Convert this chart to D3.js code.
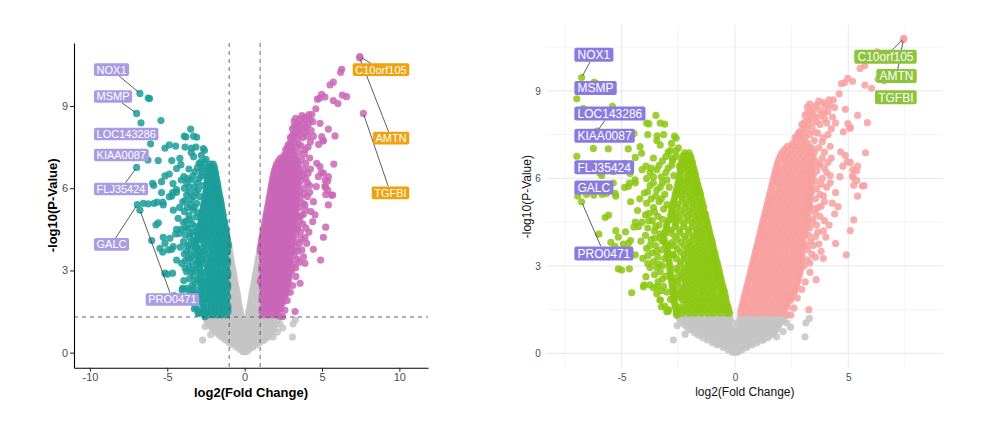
<!DOCTYPE html>
<html>
<head>
<meta charset="utf-8">
<script src="https://cdn.jsdelivr.net/npm/d3@7"></script>
<style>
  body { margin: 0; background: #fff; }
  svg { display: block; font-family: "Liberation Sans", Arial, sans-serif; }
</style>
</head>
<body>
<svg width="1000" height="425"></svg>
<script>
// ---- data: log2 fold change (x) and -log10 p (y) ----
const pCut = 1.30103;   // -log10(0.05)
const fcCut = 1;

// non significant cloud at the bottom, rows of [p, [fc...]]
const nsRows = [
  [0.04, [-0.12, 0.0, 0.12]],
  [0.12, [-0.3, -0.1, 0.1, 0.3]],
  [0.2, [-0.52, -0.26, 0.0, 0.26, 0.52]],
  [0.29, [-0.78, -0.52, -0.26, 0.0, 0.26, 0.52, 0.76]],
  [0.37, [-1.0, -0.75, -0.5, -0.25, 0.0, 0.25, 0.5, 0.75, 0.98]],
  [0.46, [-1.22, -0.95, -0.68, -0.4, -0.13, 0.12, 0.38, 0.63, 0.9, 1.15, 1.25]],
  [0.54, [-1.42, -1.15, -0.88, -0.6, -0.32, -0.05, 0.22, 0.5, 0.78, 1.05, 1.3, 1.45]],
  [0.63, [-1.62, -1.35, -1.08, -0.8, -0.55, -0.28, 0.0, 0.27, 0.55, 0.82, 1.1, 1.38, 1.6]],
  [0.71, [-1.78, -1.52, -1.25, -0.98, -0.7, -0.42, -0.15, 0.12, 0.4, 0.68, 0.95, 1.22, 1.5, 1.7]],
  [0.8, [-1.95, -1.68, -1.4, -1.12, -0.85, -0.57, -0.3, -0.02, 0.25, 0.52, 0.8, 1.07, 1.35, 1.62, 1.8]],
  [0.88, [-2.08, -1.82, -1.55, -1.28, -1.0, -0.72, -0.45, -0.18, 0.1, 0.38, 0.65, 0.92, 1.2, 1.48, 1.75, 1.9]],
  [0.97, [-2.2, -1.92, -1.65, -1.38, -1.1, -0.82, -0.55, -0.27, 0.25, 0.52, 0.8, 1.08, 1.35, 1.62, 1.9]],
  [1.05, [-2.3, -2.02, -1.75, -1.48, -1.2, -0.92, -0.64, -0.36, -0.12, 0.12, 0.36, 0.64, 0.92, 1.2, 1.48, 1.75, 2.0]],
  [1.13, [-2.38, -2.15, -1.88, -1.6, -1.32, -1.05, -0.78, -0.5, -0.24, 0.24, 0.5, 0.78, 1.05, 1.32, 1.6, 1.88, 2.08]],
  [1.2, [-2.45, -2.18, -1.9, -1.62, -1.35, -1.08, -0.8, -0.52, -0.22, 0.22, 0.52, 0.8, 1.08, 1.35, 1.62, 1.9, 2.12]],
  [1.28, [-2.52, -2.3, -2.02, -1.75, -1.48, -1.2, -0.92, -0.65, -0.38, 0.38, 0.65, 0.92, 1.2, 1.48, 1.75, 2.02, 2.2]]
];
const nsScatter = [[-2.72, 0.46], [-2.2, 0.66], [1.84, 0.57], [3.09, 0.57], [3.13, 1.05], [3.28, 1.2],
  [2.28, 1.05], [2.45, 0.9], [2.12, 0.75], [-2.55, 0.95]];

// dense body of the down regulated side
const downRows = [
  [1.38, [-2.58, -2.33, -2.04, -1.77, -1.5, -1.21, -0.95, -0.66, -0.4, -0.24]],
  [1.49, [-2.6, -2.45, -2.18, -1.9, -1.63, -1.35, -1.08, -0.8, -0.53, -0.28]],
  [1.6, [-2.63, -2.45, -2.18, -1.9, -1.63, -1.36, -1.08, -0.8, -0.53, -0.31]],
  [1.71, [-2.67, -2.17, -1.91, -1.63, -1.36, -1.08, -0.8, -0.54, -0.36]],
  [1.82, [-2.69, -2.31, -2.05, -1.77, -1.49, -1.22, -0.94, -0.67, -0.4]],
  [1.93, [-2.7, -2.55, -2.32, -2.04, -1.76, -1.49, -1.22, -0.95, -0.68, -0.42]],
  [2.04, [-2.72, -2.46, -2.19, -1.9, -1.63, -1.35, -1.09, -0.8, -0.55, -0.45]],
  [2.15, [-2.74, -2.6, -2.32, -2.05, -1.77, -1.49, -1.22, -0.96, -0.62, -0.48]],
  [2.26, [-2.76, -2.33, -2.06, -1.78, -1.5, -1.23, -0.95, -0.7, -0.52]],
  [2.37, [-2.78, -2.55, -2.2, -1.92, -1.64, -1.37, -1.09, -0.82, -0.56]],
  [2.48, [-2.8, -2.52, -2.2, -1.92, -1.64, -1.36, -1.09, -0.82, -0.6]],
  [2.59, [-2.82, -2.62, -2.34, -2.06, -1.78, -1.5, -1.22, -0.95, -0.72, -0.63]],
  [2.7, [-2.84, -2.36, -2.07, -1.79, -1.51, -1.23, -0.95, -0.67]],
  [2.81, [-2.86, -2.5, -2.22, -1.93, -1.65, -1.37, -1.09, -0.81, -0.69]],
  [2.92, [-2.88, -2.6, -2.22, -1.93, -1.65, -1.37, -1.09, -0.84, -0.73]],
  [3.03, [-2.89, -2.42, -2.08, -1.79, -1.51, -1.23, -0.97, -0.76]],
  [3.14, [-2.9, -2.4, -2.08, -1.79, -1.51, -1.23, -0.97, -0.8]],
  [3.25, [-2.95, -2.58, -2.25, -1.94, -1.65, -1.37, -1.1, -0.84]],
  [3.36, [-3.0, -2.72, -2.24, -1.95, -1.66, -1.38, -1.1, -0.87]],
  [3.47, [-2.98, -2.4, -2.1, -1.81, -1.52, -1.24, -0.98, -0.9]],
  [3.58, [-2.96, -2.55, -2.1, -1.81, -1.53, -1.24, -0.95]],
  [3.69, [-3.05, -2.68, -2.25, -1.96, -1.67, -1.38, -1.1, -0.97]],
  [3.8, [-3.1, -2.8, -2.38, -2.0, -1.68, -1.4, -1.13, -1.0]],
  [3.91, [-3.12, -2.55, -2.15, -1.84, -1.55, -1.26, -1.03]],
  [4.02, [-3.15, -2.66, -2.23, -1.85, -1.56, -1.28, -1.08]],
  [4.13, [-3.1, -2.85, -2.43, -2.04, -1.7, -1.42, -1.12]],
  [4.24, [-3.05, -2.8, -2.45, -2.05, -1.71, -1.42, -1.15]],
  [4.35, [-3.02, -2.63, -2.26, -1.88, -1.57, -1.28, -1.18]],
  [4.46, [-3.0, -2.62, -2.25, -1.89, -1.6, -1.3, -1.22]],
  [4.57, [-2.92, -2.7, -2.42, -2.06, -1.74, -1.45, -1.25]],
  [4.68, [-2.85, -2.5, -2.12, -1.78, -1.5, -1.29]],
  [4.79, [-2.82, -2.6, -2.25, -1.93, -1.63, -1.35, -1.31]],
  [4.9, [-2.8, -2.38, -2.0, -1.68, -1.4]],
  [5.01, [-2.78, -2.55, -2.2, -1.86, -1.55, -1.38]],
  [5.12, [-2.75, -2.5, -2.15, -1.85, -1.57, -1.43]],
  [5.23, [-2.7, -2.32, -2.0, -1.71, -1.46]],
  [5.34, [-2.66, -2.34, -2.02, -1.74, -1.5]],
  [5.45, [-2.63, -2.5, -2.2, -1.9, -1.62, -1.52]],
  [5.56, [-2.6, -2.42, -2.16, -1.89, -1.62, -1.56]],
  [5.67, [-2.56, -2.3, -2.02, -1.76, -1.6]],
  [5.78, [-2.53, -2.3, -2.03, -1.78, -1.64]],
  [5.89, [-2.5, -2.38, -2.1, -1.84, -1.67]],
  [6.0, [-2.47, -2.2, -1.94, -1.72]],
  [6.11, [-2.44, -2.06, -1.82, -1.74]],
  [6.22, [-2.42, -2.15, -1.9, -1.78]],
  [6.33, [-2.4, -2.27, -2.0, -1.81]],
  [6.44, [-2.38, -2.1, -1.86]],
  [6.55, [-2.36, -2.2, -1.98, -1.88]],
  [6.66, [-2.33, -2.1, -1.93]],
  [6.77, [-2.3, -2.15, -1.96]],
  [6.88, [-2.22, -2.03]]
];

// dense body of the up regulated side
const upRows = [
  [1.38, [0.24, 0.45, 0.72, 0.98, 1.25, 1.52, 1.8, 2.05]],
  [1.49, [0.27, 0.58, 0.85, 1.12, 1.38, 1.66, 1.93, 2.15]],
  [1.6, [0.31, 0.58, 0.85, 1.12, 1.38, 1.66, 1.93, 2.2, 2.32]],
  [1.71, [0.34, 0.45, 0.72, 0.98, 1.25, 1.52, 1.79, 2.06, 2.3]],
  [1.82, [0.38, 0.72, 0.98, 1.25, 1.52, 1.79, 2.06, 2.33, 2.45]],
  [1.93, [0.41, 0.58, 0.85, 1.12, 1.38, 1.65, 1.92, 2.2, 2.4, 2.5]],
  [2.04, [0.45, 0.6, 0.86, 1.12, 1.38, 1.65, 1.92, 2.2, 2.46, 2.6]],
  [2.15, [0.48, 0.73, 0.99, 1.25, 1.52, 1.78, 2.05, 2.33, 2.55, 2.65]],
  [2.26, [0.52, 0.74, 1.0, 1.27, 1.53, 1.8, 2.07, 2.34, 2.6, 2.7]],
  [2.37, [0.55, 0.87, 1.14, 1.4, 1.67, 1.93, 2.2, 2.47, 2.72]],
  [2.48, [0.59, 0.88, 1.14, 1.4, 1.67, 1.94, 2.2, 2.47, 2.78]],
  [2.59, [0.62, 0.75, 1.01, 1.27, 1.53, 1.8, 2.07, 2.34, 2.6, 2.8]],
  [2.7, [0.66, 0.8, 1.06, 1.32, 1.58, 1.85, 2.12, 2.38, 2.65, 2.85]],
  [2.81, [0.69, 0.93, 1.19, 1.45, 1.71, 1.98, 2.25, 2.51, 2.76, 2.87]],
  [2.92, [0.73, 0.95, 1.2, 1.46, 1.72, 1.99, 2.26, 2.52, 2.78, 2.9]],
  [3.03, [0.76, 0.83, 1.08, 1.33, 1.59, 1.85, 2.12, 2.39, 2.65, 2.88]],
  [3.14, [0.8, 1.1, 1.35, 1.61, 1.87, 2.13, 2.4, 2.66, 2.92]],
  [3.25, [0.83, 0.98, 1.23, 1.48, 1.74, 2.0, 2.27, 2.53, 2.79, 2.93]],
  [3.36, [0.87, 1.0, 1.25, 1.5, 1.76, 2.02, 2.28, 2.55, 2.8, 2.96]],
  [3.47, [0.9, 1.13, 1.38, 1.63, 1.89, 2.15, 2.41, 2.67, 2.92]],
  [3.58, [0.94, 1.15, 1.4, 1.66, 1.92, 2.18, 2.44, 2.7, 2.98]],
  [3.69, [0.97, 1.03, 1.28, 1.53, 1.79, 2.05, 2.31, 2.57, 2.83, 3.0]],
  [3.8, [1.01, 1.3, 1.55, 1.81, 2.07, 2.33, 2.6, 2.86, 3.02]],
  [3.91, [1.04, 1.18, 1.43, 1.68, 1.94, 2.2, 2.46, 2.73, 2.95]],
  [4.02, [1.08, 1.2, 1.45, 1.7, 1.96, 2.22, 2.48, 2.75, 3.05]],
  [4.13, [1.11, 1.33, 1.58, 1.83, 2.09, 2.35, 2.61, 2.88, 3.08]],
  [4.24, [1.15, 1.36, 1.61, 1.87, 2.13, 2.39, 2.65, 2.91, 3.1]],
  [4.35, [1.18, 1.25, 1.49, 1.74, 2.0, 2.26, 2.52, 2.78, 3.0, 3.12]],
  [4.46, [1.22, 1.5, 1.76, 2.02, 2.28, 2.54, 2.8, 3.05, 3.15]],
  [4.57, [1.25, 1.38, 1.63, 1.89, 2.15, 2.41, 2.67, 2.93, 3.18]],
  [4.68, [1.29, 1.4, 1.66, 1.92, 2.18, 2.44, 2.7, 2.96, 3.2]],
  [4.79, [1.32, 1.53, 1.79, 2.05, 2.31, 2.57, 2.83, 3.08, 3.22]],
  [4.9, [1.36, 1.57, 1.83, 2.09, 2.35, 2.61, 2.87, 3.12, 3.25]],
  [5.01, [1.39, 1.45, 1.7, 1.96, 2.22, 2.48, 2.74, 3.0, 3.26]],
  [5.12, [1.43, 1.72, 1.98, 2.24, 2.5, 2.76, 3.02, 3.28]],
  [5.23, [1.46, 1.6, 1.85, 2.11, 2.37, 2.63, 2.89, 3.15, 3.29]],
  [5.34, [1.5, 1.62, 1.88, 2.14, 2.4, 2.66, 2.92, 3.18, 3.3]],
  [5.45, [1.53, 1.75, 2.01, 2.27, 2.53, 2.79, 3.05, 3.31]],
  [5.56, [1.57, 1.78, 2.04, 2.3, 2.56, 2.82, 3.08, 3.32]],
  [5.67, [1.6, 1.91, 2.17, 2.43, 2.69, 2.95, 3.2, 3.34]],
  [5.78, [1.64, 1.95, 2.2, 2.46, 2.72, 2.98, 3.24, 3.35]],
  [5.89, [1.67, 1.82, 2.07, 2.33, 2.59, 2.85, 3.11, 3.36]],
  [6.0, [1.71, 1.85, 2.1, 2.36, 2.62, 2.88, 3.14, 3.38]],
  [6.11, [1.74, 1.98, 2.23, 2.49, 2.75, 3.01, 3.27, 3.39]],
  [6.22, [1.78, 2.02, 2.28, 2.54, 2.8, 3.06, 3.32, 3.4]],
  [6.33, [1.81, 2.05, 2.31, 2.57, 2.83, 3.09, 3.35, 3.41]],
  [6.44, [1.85, 2.18, 2.44, 2.7, 2.96, 3.22, 3.42]],
  [6.55, [1.89, 2.24, 2.5, 2.76, 3.02, 3.28, 3.41]],
  [6.66, [1.94, 2.1, 2.36, 2.62, 2.88, 3.14, 3.4]],
  [6.77, [2.0, 2.23, 2.49, 2.75, 3.01, 3.27, 3.38]],
  [6.88, [2.07, 2.3, 2.56, 2.82, 3.08, 3.34]],
  [6.99, [2.18, 2.43, 2.69, 2.95, 3.21, 3.3]],
  [7.1, [2.32, 2.52, 2.78, 3.04, 3.22]]
];

// looser edge of the down side
const downFringe = [[-2.95, 1.45], [-3.1, 1.62], [-2.85, 1.85], [-3.3, 1.83], [-3.0, 2.1], [-3.15, 2.3],
  [-3.4, 2.45], [-3.05, 2.65], [-3.3, 2.8], [-3.55, 2.7], [-3.2, 3.0], [-3.75, 2.95], [-3.1, 3.25],
  [-3.4, 3.3], [-3.65, 3.45], [-3.25, 3.55], [-3.5, 3.7], [-3.9, 3.6], [-3.2, 3.85], [-3.7, 3.9],
  [-4.15, 3.85], [-3.3, 4.1], [-3.55, 4.2], [-3.85, 4.3], [-3.35, 4.4], [-3.65, 4.55], [-4.1, 4.5],
  [-3.4, 4.7], [-3.8, 4.8], [-3.15, 4.95], [-4.3, 4.9], [-3.0, 5.1], [-3.35, 5.2], [-3.7, 5.3],
  [-3.1, 5.45], [-4.0, 5.5], [-3.45, 5.6], [-2.9, 5.7], [-3.75, 5.75], [-3.2, 5.85], [-4.4, 5.85],
  [-2.7, 6.1], [-3.05, 6.2], [-3.45, 6.3], [-2.8, 6.45], [-3.2, 6.6], [-2.6, 6.75], [-3.6, 6.7],
  [-2.95, 6.9], [-2.5, 7.05], [-2.8, 7.2], [-3.3, 7.15], [-3.45, 7.3], [-3.15, 7.5], [-3.95, 4.05],
  [-4.25, 4.35], [-3.6, 5.0], [-3.9, 5.15], [-4.2, 5.3], [-3.6, 6.05], [-3.9, 6.0], [-4.1, 6.3],
  [-2.75, 3.4], [-2.7, 4.7], [-2.9, 3.7], [-3.25, 1.6], [-3.45, 2.05], [-3.25, 2.15], [-3.6, 2.25],
  [-3.2, 2.55], [-3.45, 2.95], [-3.6, 3.15], [-3.35, 3.05], [-3.85, 3.35], [-3.45, 3.5], [-3.75, 3.7],
  [-3.3, 3.95], [-3.55, 3.95], [-3.5, 4.35], [-3.8, 4.55], [-3.2, 4.6], [-3.55, 4.85], [-3.95, 4.75],
  [-3.25, 5.3], [-3.5, 5.4], [-3.85, 5.55], [-3.3, 5.7], [-3.6, 5.85], [-3.0, 5.95], [-3.25, 6.05],
  [-2.95, 6.35], [-3.35, 6.45], [-2.75, 6.6], [-3.05, 6.75], [-3.7, 6.35], [-2.6, 6.95], [-2.85, 6.95]];

// scattered genes far on the down side
const downTail = [[-6.23, 9.29], [-6.15, 9.27], [-6.7, 8.39], [-5.41, 8.47], [-3.49, 8.16], [-3.9, 7.9],
  [-3.8, 7.87], [-3.3, 7.9], [-3.1, 7.86], [-5.15, 7.46], [-4.46, 7.54], [-4.87, 7.58], [-3.85, 7.5],
  [-3.44, 7.46], [-2.67, 7.45], [-2.6, 7.38], [-5.59, 7.01], [-4.71, 7.01], [-4.19, 7.09], [-4.12, 6.86],
  [-5.15, 6.45], [-4.87, 6.52], [-5.37, 6.24], [-4.4, 6.72], [-3.93, 6.42], [-3.75, 6.2], [-2.77, 6.7],
  [-2.13, 6.79], [-2.46, 6.42], [-4.63, 6.17], [-4.41, 5.95], [-5.95, 6.18], [-5.88, 6.1], [-6.55, 5.45],
  [-6.23, 5.43], [-5.86, 5.45], [-5.66, 5.49], [-5.29, 5.49], [-4.71, 5.72], [-5.26, 5.39], [-4.61, 5.2],
  [-4.87, 5.69], [-5.37, 5.84], [-4.66, 5.84], [-5.58, 4.74], [-5.73, 4.66], [-6.01, 4.09], [-5.26, 4.21],
  [-4.83, 4.17], [-5.15, 3.99], [-4.61, 3.87], [-4.93, 3.75], [-4.4, 4.5], [-4.46, 4.33], [-5.48, 3.81],
  [-5.3, 3.67], [-4.71, 3.77], [-5.15, 2.9], [-4.66, 2.9], [-5.0, 2.86], [-3.93, 2.63], [-4.01, 2.35],
  [-3.75, 2.35], [-4.04, 2.29], [-3.43, 2.29], [-4.56, 2.08], [-3.31, 1.83], [-2.93, 1.5], [-4.4, 3.38],
  [-4.07, 3.26], [-3.85, 3.08], [-2.57, 1.31], [-3.01, 1.43]];

// looser edge of the up side
const upFringe = [[2.6, 1.55], [2.75, 1.9], [2.95, 2.2], [3.1, 2.45], [3.05, 3.0], [3.2, 3.2], [3.4, 3.4],
  [3.8, 3.5], [3.9, 3.26], [3.15, 3.7], [3.35, 3.85], [4.01, 3.99], [3.55, 4.0], [3.3, 4.3], [3.6, 4.4],
  [3.45, 4.6], [3.75, 4.7], [3.5, 4.95], [3.8, 5.05], [3.55, 5.3], [3.9, 5.4], [3.6, 5.65], [4.05, 5.7],
  [3.55, 5.9], [3.85, 6.0], [4.2, 6.1], [3.6, 6.25], [3.95, 6.35], [3.55, 6.6], [3.85, 6.7], [4.25, 6.7],
  [3.5, 6.9], [3.2, 7.2], [3.5, 7.3], [3.85, 7.25], [2.9, 7.4], [3.3, 7.5], [3.65, 7.55], [4.1, 7.5],
  [3.0, 7.7], [3.4, 7.8], [3.75, 7.85], [3.1, 7.95], [3.55, 8.1], [3.95, 8.05], [3.09, 8.17], [3.35, 8.3],
  [3.75, 8.35], [4.1, 8.3], [3.6, 8.52], [3.9, 8.6], [4.15, 8.69], [4.34, 8.69], [4.0, 8.5], [4.4, 8.43],
  [2.7, 7.25], [2.95, 7.05], [3.25, 6.95], [3.7, 6.45], [3.65, 5.0], [4.15, 4.4], [3.25, 4.05], [3.7, 3.75],
  [3.3, 3.1], [3.55, 3.3], [3.2, 3.55], [3.45, 3.7], [3.65, 4.15], [3.9, 4.2], [3.4, 4.5], [3.95, 4.55],
  [3.55, 4.8], [3.3, 5.05], [3.95, 5.2], [3.75, 5.45], [3.4, 5.55], [3.8, 5.8], [4.2, 5.85], [3.45, 6.1],
  [4.05, 6.2], [3.75, 6.5], [4.1, 6.55], [3.45, 6.75], [3.95, 6.9], [3.7, 7.05], [4.2, 7.1], [3.4, 7.05],
  [3.05, 7.3], [3.9, 7.4], [3.5, 7.6], [4.25, 7.7], [3.2, 7.85], [3.6, 7.95], [4.05, 7.9], [3.35, 8.05],
  [3.8, 8.15], [4.3, 8.1], [3.5, 8.4], [3.2, 8.45], [3.95, 8.25], [2.85, 7.6], [2.75, 7.45], [3.05, 7.85],
  [3.3, 8.55], [3.7, 8.65], [4.2, 8.5], [2.55, 7.2], [2.65, 7.4], [2.9, 7.25], [3.1, 7.4], [2.8, 7.55],
  [3.0, 7.55], [3.2, 7.65], [2.95, 7.85], [3.25, 8.0], [3.45, 8.2], [3.2, 8.25]];

// scattered genes far on the up side
const upTail = [[6.27, 10.34], [6.2, 10.23], [5.73, 9.87], [5.52, 9.77], [4.98, 9.43], [4.83, 9.28],
  [4.7, 9.25], [5.19, 9.33], [5.73, 9.2], [6.03, 9.09], [6.31, 9.4], [6.59, 9.34], [4.6, 8.9], [5.41, 8.16],
  [5.84, 7.91], [4.87, 8.37], [5.07, 7.72], [4.98, 7.88], [5.09, 7.75], [5.76, 6.88], [5.09, 6.55],
  [4.95, 6.57], [4.76, 6.42], [5.41, 6.42], [5.2, 6.3], [5.37, 6.26], [5.19, 6.08], [5.22, 6.03],
  [4.63, 6.06], [5.37, 5.93], [5.69, 5.75], [5.24, 5.77], [5.62, 5.74], [5.41, 5.39], [5.24, 4.58],
  [5.09, 4.21], [4.44, 3.77], [4.91, 3.38], [3.26, 1.5], [3.31, 2.78], [3.58, 2.53], [4.4, 4.78],
  [4.29, 5.15], [4.55, 5.03], [4.44, 5.51], [4.66, 6.91], [4.87, 6.79], [4.78, 7.6], [4.44, 7.9],
  [2.46, 1.31], [2.28, 1.33]];

// labelled genes
const labelGenes = ["NOX1", "MSMP", "LOC143286", "KIAA0087", "FLJ35424", "GALC", "PRO0471", "C10orf105", "AMTN", "TGFBI"];
const labelFC = [-6.77, -6.98, -6.08, -6.25, -6.98, -6.94, -6.77, 7.45, 7.43, 7.67];
const labelP = [9.46, 8.73, 7.62, 7.03, 6.76, 5.4, 5.2, 10.8, 10.76, 8.73];

// tick labels
const leftXTicks = [-10, -5, 0, 5, 10];
const leftXTickLabels = ["-10", "-5", "0", "5", "10"];
const rightXTicks = [-5, 0, 5];
const rightXTickLabels = ["-5", "0", "5"];
const yTicks = [0, 3, 6, 9];
const yTickLabels = ["0", "3", "6", "9"];

// where the repelled labels ended up (data units, anchor side)
const leftLabelAt = [[-9.74, 10.33, "start"], [-9.74, 9.35, "start"], [-9.74, 7.98, "start"], [-9.74, 7.21, "start"],
  [-9.74, 5.97, "start"], [-9.74, 3.95, "start"], [-4.67, 1.94, "middle"], [10.64, 10.33, "end"],
  [10.64, 7.83, "end"], [10.64, 5.83, "end"]];
const rightLabelAt = [[-7.09, 10.24, "start"], [-7.09, 9.1, "start"], [-7.09, 8.23, "start"], [-7.09, 7.46, "start"],
  [-7.09, 6.38, "start"], [-7.09, 5.69, "start"], [-7.09, 3.43, "start"], [8.02, 10.17, "end"],
  [8.02, 9.51, "end"], [8.02, 8.78, "end"]];

// ---- drawing ----
const svg = d3.select("svg");

const rowsToPts = rows => rows.flatMap(([p, fcs]) => fcs.map(fc => [fc, p]));
const genes = [].concat(rowsToPts(nsRows), nsScatter, rowsToPts(downRows), rowsToPts(upRows),
  downFringe, upFringe, downTail, upTail, labelFC.map((fc, i) => [fc, labelP[i]]));

const grey = "#C4C4C4";

const panels = [
  {
    x0: 74, x1: 428, y0: 43, y1: 367.7, xDom: [-11.03, 11.85], yDom: [-0.55, 11.3],
    colour: (fc, p) => p > pCut && fc < -fcCut ? "#1B9E9A" : p > pCut && fc > fcCut ? "#CA66B7" : grey,
    classic: true, xTicks: leftXTicks, xTickLabels: leftXTickLabels, labelAt: leftLabelAt,
    labelFill: i => i < 7 ? "#A99CE3" : "#F0A20E", fs: 11, padX: 2.6, boxH: 12.6
  },
  {
    x0: 546.7, x1: 943, y0: 25, y1: 368.3, xDom: [-8.31, 9.18], yDom: [-0.51, 11.26],
    colour: (fc, p) => p > pCut ? (fc < 0 ? "#8CC712" : "#F8A0A0") : grey,
    classic: false, xTicks: rightXTicks, xTickLabels: rightXTickLabels, labelAt: rightLabelAt,
    labelFill: i => i < 7 ? "#8A7BE0" : "#8CC43C", fs: 12, padX: 3.2, boxH: 14
  }
];

panels.forEach(cfg => {
  const x = d3.scaleLinear().domain(cfg.xDom).range([cfg.x0, cfg.x1]);
  const y = d3.scaleLinear().domain(cfg.yDom).range([cfg.y1, cfg.y0]);
  const g = svg.append("g");

  if (!cfg.classic) {
    // theme_minimal grid
    const grid = g.append("g").attr("stroke", "#EBEBEB");
    const minorX = [-7.5, -2.5, 2.5, 7.5], minorY = [1.5, 4.5, 7.5, 10.5];
    grid.selectAll(".mx").data(minorX).join("line").attr("class", "mx")
      .attr("x1", d => x(d)).attr("x2", d => x(d)).attr("y1", cfg.y0).attr("y2", cfg.y1).attr("stroke-width", 0.6);
    grid.selectAll(".my").data(minorY).join("line").attr("class", "my")
      .attr("x1", cfg.x0).attr("x2", cfg.x1).attr("y1", d => y(d)).attr("y2", d => y(d)).attr("stroke-width", 0.6);
    grid.selectAll(".Mx").data(cfg.xTicks).join("line").attr("class", "Mx")
      .attr("x1", d => x(d)).attr("x2", d => x(d)).attr("y1", cfg.y0).attr("y2", cfg.y1).attr("stroke-width", 1.1);
    grid.selectAll(".My").data(yTicks).join("line").attr("class", "My")
      .attr("x1", cfg.x0).attr("x2", cfg.x1).attr("y1", d => y(d)).attr("y2", d => y(d)).attr("stroke-width", 1.1);
  }

  // points, grey ones underneath
  const pts = genes.map(d => ({ fc: d[0], p: d[1], c: cfg.colour(d[0], d[1]) }))
    .sort((a, b) => (a.c === grey ? 0 : 1) - (b.c === grey ? 0 : 1));
  g.append("g").selectAll("circle").data(pts).join("circle")
    .attr("cx", d => x(d.fc)).attr("cy", d => y(d.p)).attr("r", 3.6)
    .attr("fill", d => d.c).attr("fill-opacity", 0.85);

  if (cfg.classic) {
    // threshold lines
    const th = g.append("g").attr("stroke", "#555").attr("stroke-width", 0.9).attr("stroke-dasharray", "4,4");
    th.selectAll("line.v").data([-fcCut, fcCut]).join("line").attr("class", "v")
      .attr("x1", d => x(d)).attr("x2", d => x(d)).attr("y1", cfg.y0).attr("y2", cfg.y1);
    th.append("line").attr("x1", cfg.x0).attr("x2", cfg.x1).attr("y1", y(pCut)).attr("y2", y(pCut));

    const ax = g.append("g").attr("transform", `translate(0,${cfg.y1})`)
      .call(d3.axisBottom(x).tickValues(cfg.xTicks).tickFormat((d, i) => cfg.xTickLabels[i])
        .tickSize(4).tickSizeOuter(0).tickPadding(2));
    const ay = g.append("g").attr("transform", `translate(${cfg.x0},0)`)
      .call(d3.axisLeft(y).tickValues(yTicks).tickFormat((d, i) => yTickLabels[i])
        .tickSize(4).tickSizeOuter(0).tickPadding(2));
    [ax, ay].forEach(a => {
      a.attr("font-family", null).attr("font-size", null);
      a.select(".domain").attr("stroke", "#000").attr("stroke-width", 1.1);
      a.selectAll(".tick line").attr("stroke", "#222").attr("stroke-width", 1);
      a.selectAll(".tick text").attr("fill", "#4D4D4D").attr("font-size", 11);
    });
    g.append("text").attr("x", (cfg.x0 + cfg.x1) / 2).attr("y", 397).attr("text-anchor", "middle")
      .attr("font-size", 13).attr("font-weight", "bold").text("log2(Fold Change)");
    g.append("text").attr("transform", `translate(57,${(cfg.y0 + cfg.y1) / 2}) rotate(-90)`)
      .attr("text-anchor", "middle").attr("font-size", 13).attr("font-weight", "bold").text("-log10(P-Value)");
  } else {
    const ax = g.append("g").attr("transform", `translate(0,${cfg.y1})`)
      .call(d3.axisBottom(x).tickValues(cfg.xTicks).tickFormat((d, i) => cfg.xTickLabels[i])
        .tickSize(0).tickPadding(6));
    const ay = g.append("g").attr("transform", `translate(${cfg.x0},0)`)
      .call(d3.axisLeft(y).tickValues(yTicks).tickFormat((d, i) => yTickLabels[i])
        .tickSize(0).tickPadding(6));
    [ax, ay].forEach(a => {
      a.attr("font-family", null).attr("font-size", null);
      a.select(".domain").remove();
      a.selectAll(".tick text").attr("fill", "#4D4D4D").attr("font-size", 10);
    });
    g.append("text").attr("x", (cfg.x0 + cfg.x1) / 2).attr("y", 396).attr("text-anchor", "middle")
      .attr("font-size", 12).attr("fill", "#111").text("log2(Fold Change)");
    g.append("text").attr("transform", `translate(531,${(cfg.y0 + cfg.y1) / 2}) rotate(-90)`)
      .attr("text-anchor", "middle").attr("font-size", 12).attr("fill", "#111").text("-log10(P-Value)");
  }

  // repelled labels with their segments
  const segG = g.append("g");
  const boxG = g.append("g");
  labelGenes.forEach((name, i) => {
    const lab = boxG.append("g");
    const rect = lab.append("rect");
    const t = lab.append("text").text(name).attr("font-size", cfg.fs).attr("fill", "#fff")
      .attr("text-anchor", "middle").attr("dy", "0.36em");
    const w = t.node().getComputedTextLength() + 2 * cfg.padX;
    const h = cfg.boxH;
    const [lx, ly, side] = cfg.labelAt[i];
    const left = side === "start" ? x(lx) : side === "end" ? x(lx) - w : x(lx) - w / 2;
    const cx = left + w / 2, cy = y(ly);
    rect.attr("x", left).attr("y", cy - h / 2).attr("width", w).attr("height", h)
      .attr("rx", 2).attr("fill", cfg.labelFill(i));
    t.attr("x", cx).attr("y", cy);

    const px = x(labelFC[i]), py = y(labelP[i]);
    const dx = px - cx, dy = py - cy;
    if (Math.abs(dx) <= w / 2 && Math.abs(dy) <= h / 2) return;
    const k = Math.min(dx ? (w / 2) / Math.abs(dx) : Infinity, dy ? (h / 2) / Math.abs(dy) : Infinity);
    const sx = cx + dx * k, sy = cy + dy * k;
    const len = Math.hypot(px - sx, py - sy);
    if (len - 3.6 < 9) return;
    const ex = px - (px - sx) / len * 2, ey = py - (py - sy) / len * 2;
    segG.append("line").attr("x1", sx).attr("y1", sy).attr("x2", ex).attr("y2", ey)
      .attr("stroke", "#333").attr("stroke-width", 0.8);
  });
});
</script>
</body>
</html>
